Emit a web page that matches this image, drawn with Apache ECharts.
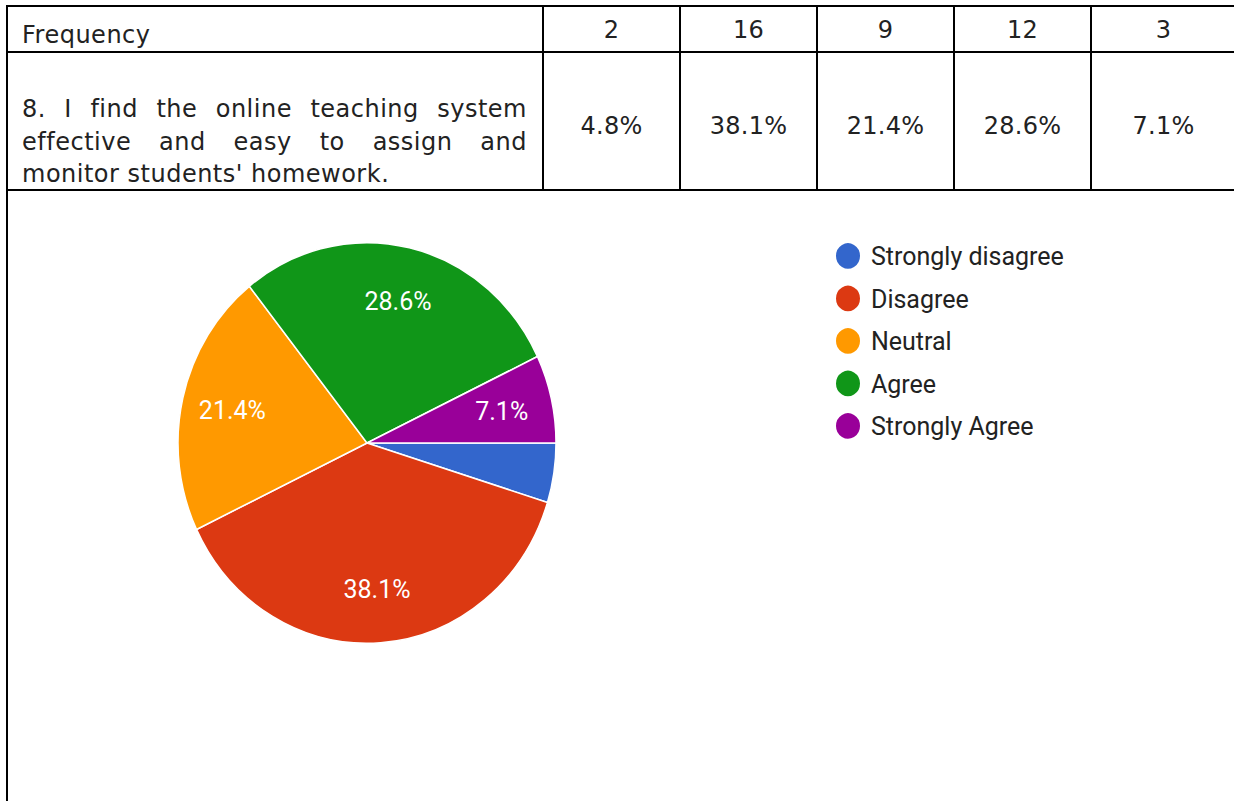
<!DOCTYPE html>
<html>
<head>
<meta charset="utf-8">
<script src="https://cdn.jsdelivr.net/npm/echarts@6/dist/echarts.min.js"></script>
<style>
  html, body { margin: 0; padding: 0; background: #fff; overflow: hidden; }
  #chart {
    position: absolute; left: 0; top: 0; width: 1234px; height: 801px;
    /* the chart area is drawn slightly taller than wide */
    transform: scaleY(1.06);
    transform-origin: 0 443px;
  }
  .rule { position: absolute; background: #000; }
  .cell {
    position: absolute;
    font-family: "DejaVu Sans", sans-serif;
    font-size: 24px;
    line-height: 24px;
    color: #222;
    letter-spacing: 0.5px;
    white-space: nowrap;
  }
  .justified { text-align: justify; text-align-last: justify; }
  .center { text-align: center; letter-spacing: 0.3px; }
</style>
</head>
<body>
<div id="chart"></div>
<div id="table"></div>
<script>
// Survey item 8: response categories, frequencies and shares
const categories = ['Strongly disagree', 'Disagree', 'Neutral', 'Agree', 'Strongly Agree'];
const frequencies = [2, 16, 9, 12, 3];
const percentages = [4.8, 38.1, 21.4, 28.6, 7.1];
const rowHeader = 'Frequency';
const statementLines = [
  '8. I find the online teaching system',
  'effective and easy to assign and',
  "monitor students' homework."
];
const sliceColors = ['#3366CC', '#DC3912', '#FF9900', '#109618', '#990099'];

// ---- table frame and cell text ----
const table = document.getElementById('table');
const colEdges = [7, 543, 680, 817, 954, 1091, 1236];
const rowEdges = [6, 52, 190];
const LINE = 2;

function rule(x, y, w, h) {
  const d = document.createElement('div');
  d.className = 'rule';
  Object.assign(d.style, { left: x + 'px', top: y + 'px', width: w + 'px', height: h + 'px' });
  table.appendChild(d);
}
function text(str, cls, x, y, w) {
  const d = document.createElement('div');
  d.className = 'cell ' + (cls || '');
  d.textContent = str;
  d.style.left = x + 'px';
  d.style.top = y + 'px';
  if (w) d.style.width = w + 'px';
  table.appendChild(d);
  return d;
}

rowEdges.forEach(y => rule(colEdges[0] - 1, y - 1, 1300, LINE));
rule(colEdges[0] - 1, rowEdges[0] - 1, LINE, 801);
colEdges.slice(1).forEach(x => rule(x - 1, rowEdges[0] - 1, LINE, rowEdges[2] - rowEdges[0] + 1));

text(rowHeader, '', 22, 23);
statementLines.forEach((ln, i) => {
  const last = i === statementLines.length - 1;
  text(ln, last ? '' : 'justified', 22, 97 + i * 32.5, last ? null : 505);
});
frequencies.forEach((f, i) => {
  text(String(f), 'center', colEdges[i + 1], 18, colEdges[i + 2] - colEdges[i + 1]);
});
percentages.forEach((p, i) => {
  text(p.toFixed(1) + '%', 'center', colEdges[i + 1], 114, colEdges[i + 2] - colEdges[i + 1]);
});

// ---- pie chart ----
const chart = echarts.init(document.getElementById('chart'), null, { renderer: 'svg' });
const pieData = categories.map((name, i) => ({ name, value: percentages[i] }));
const center = [367, 443];
const R = 189;

chart.setOption({
  animation: false,
  color: sliceColors,
  legend: {
    orient: 'vertical',
    left: 829,
    top: 247.5,
    icon: 'circle',
    itemWidth: 26,
    itemHeight: 26,
    itemGap: 12.1,
    selectedMode: false,
    data: categories,
    textStyle: {
      fontFamily: 'Roboto',
      fontSize: 25,
      lineHeight: 26,
      color: '#222',
      padding: [0, 0, 0, 5]
    }
  },
  series: [
    {
      type: 'pie',
      center: center,
      radius: R,
      startAngle: 0,
      clockwise: true,
      data: pieData,
      label: { show: false },
      labelLine: { show: false },
      emphasis: { disabled: true },
      itemStyle: { borderColor: '#fff', borderWidth: 1.5 }
    },
    {
      // label ring: carries the percentage labels at ~0.7 of the radius
      type: 'pie',
      center: center,
      radius: [R * 0.43, R],
      startAngle: 0,
      clockwise: true,
      silent: true,
      data: pieData,
      minShowLabelAngle: 20,
      itemStyle: { color: 'rgba(0,0,0,0)' },
      emphasis: { disabled: true },
      labelLine: { show: false },
      label: {
        show: true,
        position: 'inside',
        formatter: '{c}%',
        fontFamily: 'Roboto',
        fontSize: 25,
        color: '#fff'
      }
    }
  ]
});
</script>
</body>
</html>
